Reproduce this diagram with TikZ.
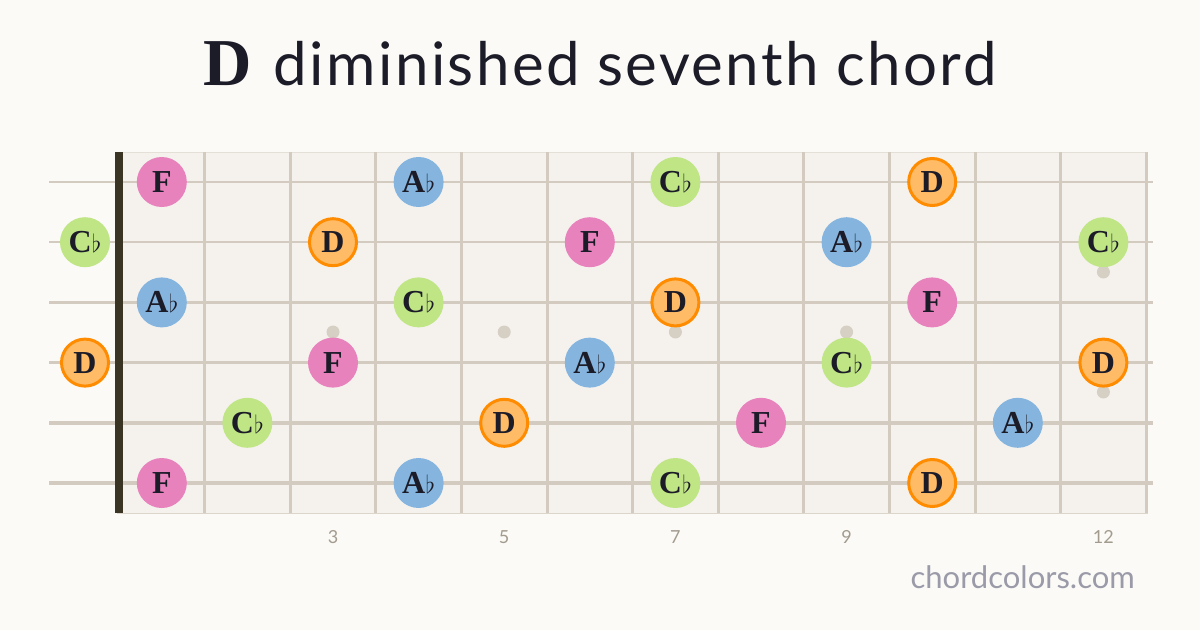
\documentclass[tikz,border=0pt]{standalone}
\usepackage{fontspec}
\setmainfont{Liberation Serif}
\newfontfamily\sansf{Lato}
\newfontfamily\titlef{Lato}[LetterSpace=4]
\definecolor{bg}{HTML}{FBFAF7}
\definecolor{board}{HTML}{F5F2EE}
\definecolor{wire}{HTML}{D3CBBF}
\definecolor{nutc}{HTML}{3A3424}
\definecolor{ink}{HTML}{1C1B28}
\definecolor{pinkc}{HTML}{E882BD}
\definecolor{bluec}{HTML}{85B5DE}
\definecolor{greenc}{HTML}{BFE585}
\definecolor{orgfill}{HTML}{FFBB66}
\definecolor{orgline}{HTML}{FF8C00}
\definecolor{numc}{HTML}{A39C8E}
\definecolor{webc}{HTML}{9A9AA8}
\definecolor{dotc}{HTML}{D6CFC3}
\newcommand\fl{\kern0.3pt{\fontsize{31}{31}\selectfont$\flat$}}
\tikzset{
  note/.style={circle, minimum size=50pt, inner sep=0pt, text=ink, font=\bfseries\fontsize{32}{32}\selectfont},
  nF/.style={note, fill=pinkc},
  nA/.style={note, fill=bluec},
  nC/.style={note, fill=greenc},
  nD/.style={note, fill=orgfill, draw=orgline, line width=3pt, minimum size=47pt},
  fretline/.style={wire, line width=3pt},
  inlay/.style={circle, fill=dotc, minimum size=13pt, inner sep=0pt},
  fretnum/.style={text=numc, font=\sansf\fontsize{18}{18}\selectfont, anchor=base},
}
\begin{document}
\begin{tikzpicture}[x=1pt,y=-1pt]
\fill[bg] (0,0) rectangle (1200,630);
\useasboundingbox (0,0) rectangle (1200,630);
% title
\node[anchor=base, text=ink, inner sep=0pt] (title) at (600,85)
  {{\bfseries\fontsize{67}{67}\selectfont D}\hspace{22pt}{\titlef\fontsize{60}{60}\selectfont diminished seventh chord}};
% fretboard
\node[draw=none, fill=board, minimum width=1031pt, minimum height=361pt, inner sep=0pt, anchor=north west] (board) at (117,152) {};
\draw[wire!60, line width=1pt] (board.north west) -- (board.north east);
\draw[wire!80, line width=1.5pt] (board.south west) -- (board.south east);
% frets
\foreach \n in {1,...,12} {
  \coordinate (ft\n) at ({119+\n*85.6},152);
  \coordinate (fb\n) at ({119+\n*85.6},513);
  \draw[fretline] (ft\n) -- (fb\n);
}
% inlays
\foreach \n/\yy [count=\i] in {3/332,5/332,7/332,9/332,12/272,12/392}
  \node[inlay] (dot\i) at ({119+(\n-0.5)*85.6},\yy) {};
% strings
\foreach \s/\w in {1/2,2/2.4,3/2.8,4/3.2,5/3.6,6/4} {
  \coordinate (sl\s) at (49,{182+(\s-1)*60.2});
  \coordinate (sr\s) at (1153,{182+(\s-1)*60.2});
  \draw[wire, line width=\w pt] (sl\s) -- (sr\s);
}
% nut
\fill[nutc] (115,152) rectangle (123,513);
% notes
\foreach \s/\f/\st/\t in {
  1/1/nF/F, 1/4/nA/A\fl, 1/7/nC/C\fl, 1/10/nD/D,
  2/0/nC/C\fl, 2/3/nD/D, 2/6/nF/F, 2/9/nA/A\fl, 2/12/nC/C\fl,
  3/1/nA/A\fl, 3/4/nC/C\fl, 3/7/nD/D, 3/10/nF/F,
  4/0/nD/D, 4/3/nF/F, 4/6/nA/A\fl, 4/9/nC/C\fl, 4/12/nD/D,
  5/2/nC/C\fl, 5/5/nD/D, 5/8/nF/F, 5/11/nA/A\fl,
  6/1/nF/F, 6/4/nA/A\fl, 6/7/nC/C\fl, 6/10/nD/D} {
  \ifnum\f=0
    \node[\st] (n\s-\f) at (85,{182+(\s-1)*60.2}) {\t};
  \else
    \node[\st] (n\s-\f) at ({119+(\f-0.5)*85.6},{182+(\s-1)*60.2}) {\t};
  \fi
}
% fret numbers
\foreach \n in {3,5,7,9,12}
  \node[fretnum] (num\n) at ({119+(\n-0.5)*85.6},543) {\n};
% website
\node[anchor=base east, text=webc, font=\sansf\fontsize{31}{31}\selectfont, inner sep=0pt] (web) at (1135,588) {chordcolors.com};
\end{tikzpicture}
\end{document}
